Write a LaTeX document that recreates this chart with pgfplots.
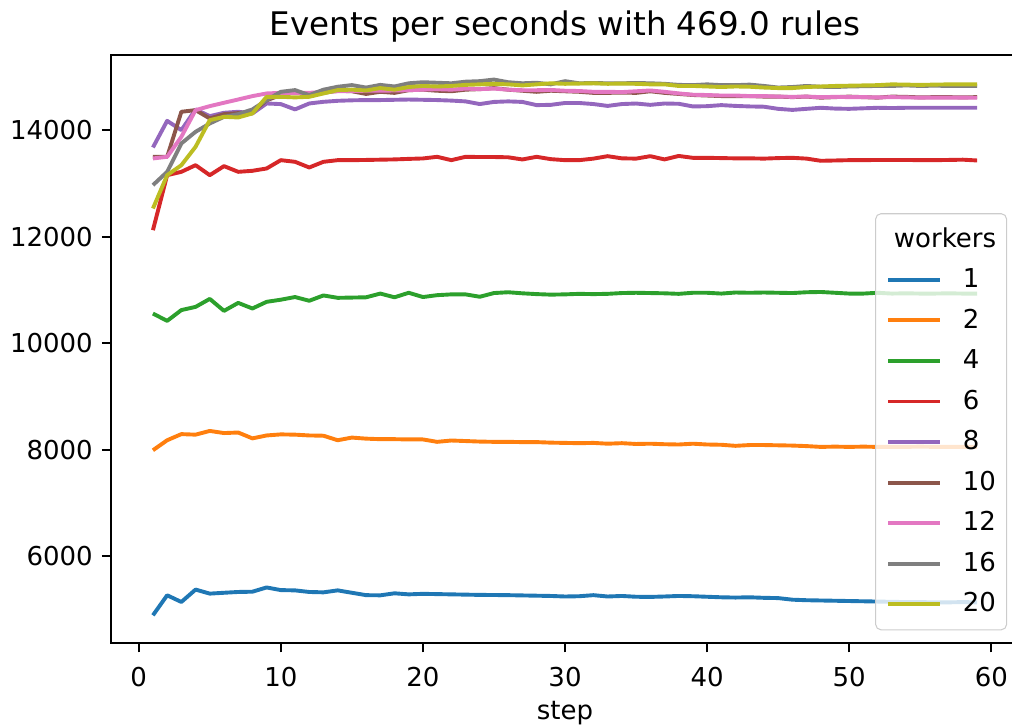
\documentclass[border=0pt]{standalone}
\usepackage{fontspec}
\setmainfont{DejaVu Sans}
\usepackage{pgfplots}
\usepackage{pgfplotstable}
\pgfplotsset{compat=1.18}
\definecolor{c1}{HTML}{1F77B4}
\definecolor{c2}{HTML}{FF7F0E}
\definecolor{c4}{HTML}{2CA02C}
\definecolor{c6}{HTML}{D62728}
\definecolor{c8}{HTML}{9467BD}
\definecolor{c10}{HTML}{8C564B}
\definecolor{c12}{HTML}{E377C2}
\definecolor{c16}{HTML}{7F7F7F}
\definecolor{c20}{HTML}{BCBD22}
\pgfplotstableread{
step w1 w2 w4 w6 w8 w10 w12 w16 w20
1 4887 7987 10555 12121 13675 13499 13468 12967 12529
2 5263 8175 10417 13154 14175 13499 13499 13217 13154
3 5137 8290 10620 13217 14000 14345 13875 13750 13342
4 5370 8280 10680 13342 14389 14376 14376 13969 13687
5 5294 8350 10830 13154 14263 14219 14451 14125 14188
6 5310 8310 10605 13324 14326 14300 14514 14250 14250
7 5325 8320 10755 13217 14345 14320 14576 14301 14238
8 5330 8210 10650 13236 14313 14340 14639 14389 14313
9 5410 8265 10775 13280 14501 14560 14689 14564 14626
10 5360 8285 10815 13436 14489 14660 14701 14720 14626
11 5355 8280 10865 13405 14389 14720 14700 14752 14615
12 5325 8265 10795 13299 14501 14650 14700 14658 14626
13 5318 8260 10895 13405 14532 14700 14720 14760 14689
14 5355 8175 10850 13436 14551 14740 14730 14815 14752
15 5310 8225 10855 13436 14560 14730 14735 14846 14760
16 5265 8205 10860 13440 14565 14680 14740 14800 14745
17 5262 8195 10930 13445 14565 14720 14740 14850 14790
18 5300 8195 10860 13450 14570 14700 14745 14820 14760
19 5280 8190 10945 13460 14575 14750 14750 14880 14810
20 5290 8190 10865 13468 14570 14760 14760 14900 14830
21 5285 8145 10900 13499 14565 14740 14770 14890 14820
22 5280 8170 10915 13436 14555 14730 14760 14880 14830
23 5275 8160 10915 13499 14540 14760 14780 14910 14850
24 5270 8150 10870 13495 14490 14770 14770 14920 14860
25 5268 8145 10940 13495 14530 14790 14780 14950 14870
26 5265 8145 10955 13490 14540 14760 14760 14900 14860
27 5260 8140 10935 13449 14530 14740 14750 14880 14840
28 5255 8140 10920 13499 14470 14720 14750 14890 14860
29 5250 8130 10910 13455 14475 14740 14755 14860 14880
30 5240 8125 10915 13436 14510 14730 14740 14920 14870
31 5245 8120 10925 13436 14510 14720 14735 14880 14875
32 5265 8125 10920 13465 14490 14700 14720 14885 14880
33 5240 8110 10925 13511 14455 14700 14720 14880 14870
34 5250 8120 10940 13470 14490 14705 14715 14880 14875
35 5235 8105 10945 13465 14500 14700 14730 14885 14870
36 5232 8110 10940 13511 14475 14730 14745 14880 14860
37 5240 8100 10935 13450 14500 14700 14720 14870 14860
38 5250 8095 10925 13515 14495 14680 14690 14850 14830
39 5245 8110 10945 13480 14445 14660 14665 14845 14830
40 5235 8095 10945 13480 14450 14650 14660 14860 14820
41 5225 8090 10930 13475 14470 14640 14650 14845 14810
42 5220 8070 10950 13470 14455 14640 14650 14845 14820
43 5225 8085 10945 13470 14445 14640 14640 14855 14815
44 5215 8085 10950 13465 14440 14630 14640 14830 14800
45 5210 8080 10945 13475 14400 14630 14630 14800 14790
46 5180 8075 10940 13480 14380 14620 14625 14810 14790
47 5170 8065 10955 13465 14400 14630 14630 14830 14810
48 5165 8050 10960 13424 14420 14610 14620 14815 14820
49 5160 8055 10945 13430 14405 14620 14625 14810 14830
50 5155 8050 10930 13436 14400 14630 14620 14820 14835
51 5150 8055 10930 13436 14410 14620 14620 14825 14840
52 5145 8050 10945 13440 14420 14610 14615 14830 14845
53 5140 8050 10930 13440 14415 14630 14620 14830 14860
54 5135 8050 10935 13440 14420 14625 14615 14840 14855
55 5135 8055 10930 13436 14420 14615 14610 14830 14850
56 5130 8050 10930 13436 14420 14620 14610 14835 14855
57 5130 8050 10935 13440 14420 14620 14610 14830 14860
58 5135 8050 10930 13445 14420 14615 14610 14830 14860
59 5130 8050 10930 13430 14420 14620 14608 14830 14860
}\datatable
\begin{document}
\begin{tikzpicture}
\begin{axis}[
  at={(0pt,0pt)}, anchor=south west,
  scale only axis, width=349.2pt, height=226.2pt,
  xmin=-1.95, xmax=61.95, ymin=4361, ymax=15409,
  xtick={0,10,20,30,40,50,60},
  ytick={6000,8000,10000,12000,14000},
  xtick pos=bottom, ytick pos=left,
  tick align=outside, major tick length=3.5pt,
  every tick/.style={black, line width=0.8pt},
  axis line style={black, line width=0.8pt},
  tick label style={font=\fontsize{10}{12}\selectfont},
  xticklabel style={yshift=-2pt},
  /pgf/number format/assume math mode=true,
  /pgf/number format/1000 sep={},
  scaled ticks=false,
  xlabel={step},
  xlabel style={font=\fontsize{10}{12}\selectfont, yshift=1.3pt},
  title={Events per seconds with 469.0 rules},
  title style={font=\fontsize{12.5}{15}\selectfont, yshift=-4.6pt},
  legend cell align=left,
  legend image code/.code={\draw[#1] plot coordinates {(0pt,0pt) (10pt,0pt) (20pt,0pt)};},
  legend style={at={(axis description cs:1,0)}, anchor=south east,
    xshift=-4.6pt, yshift=5pt, draw=black!20, rounded corners=2pt,
    fill=white, fill opacity=0.8, text opacity=1, draw opacity=1,
    font=\fontsize{10}{12}\selectfont, inner xsep=4pt, inner ysep=2pt,
    row sep=0pt, column sep=8pt,
    nodes={inner sep=0pt, minimum height=15.6pt}},
  every axis plot/.append style={line width=1.5pt, line join=round},
]
\addlegendimage{empty legend}
\addlegendentry{\hspace{-26.5pt}workers}
\addplot[c1, no markers] table[x=step, y=w1] {\datatable};
\addlegendentry{1}
\addplot[c2, no markers] table[x=step, y=w2] {\datatable};
\addlegendentry{2}
\addplot[c4, no markers] table[x=step, y=w4] {\datatable};
\addlegendentry{4}
\addplot[c6, no markers] table[x=step, y=w6] {\datatable};
\addlegendentry{6}
\addplot[c8, no markers] table[x=step, y=w8] {\datatable};
\addlegendentry{8}
\addplot[c10, no markers] table[x=step, y=w10] {\datatable};
\addlegendentry{10}
\addplot[c12, no markers] table[x=step, y=w12] {\datatable};
\addlegendentry{12}
\addplot[c16, no markers] table[x=step, y=w16] {\datatable};
\addlegendentry{16}
\addplot[c20, no markers] table[x=step, y=w20] {\datatable};
\addlegendentry{20}
\end{axis}
\pgfresetboundingbox
\path (-42.7pt,-31.9pt) rectangle (346.5pt,247.4pt);
\end{tikzpicture}
\end{document}
